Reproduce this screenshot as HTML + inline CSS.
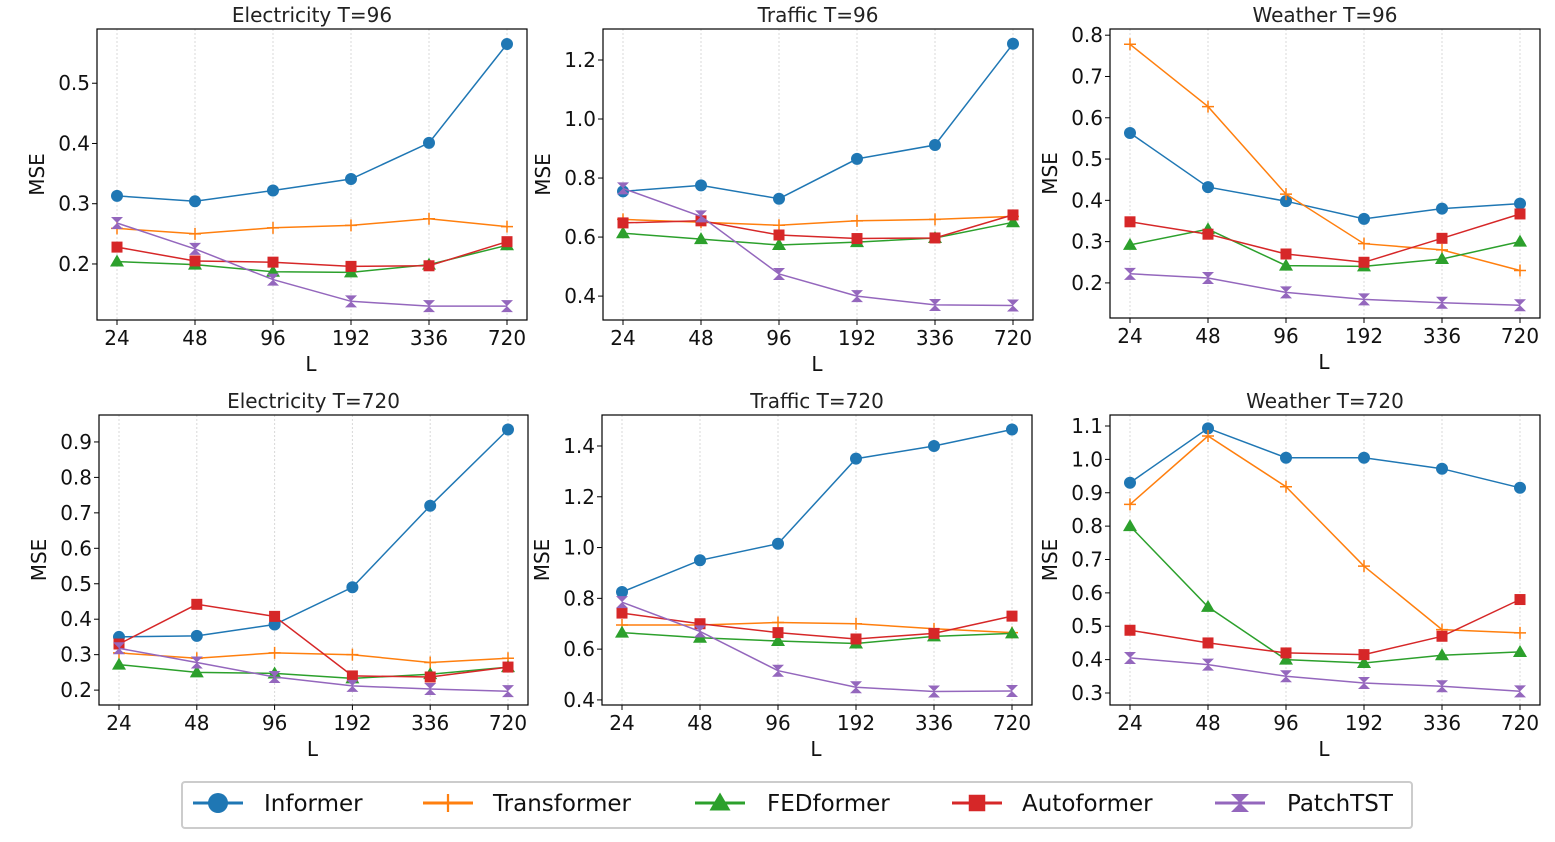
<!DOCTYPE html>
<html><head><meta charset="utf-8">
<style>
body{margin:0;background:#fff;}
svg{display:block;font-family:"DejaVu Sans","Liberation Sans",sans-serif;}
</style></head>
<body>
<svg id="fig" width="1555" height="842" viewBox="0 0 1555 842"></svg>
<script>
const categories = ["24","48","96","192","336","720"];
const seriesNames = ["Informer","Transformer","FEDformer","Autoformer","PatchTST"];
const colors = ["#1f77b4","#ff7f0e","#2ca02c","#d62728","#9467bd"];

const e96Informer = [0.313,0.304,0.322,0.341,0.401,0.565];
const e96Transformer = [0.259,0.250,0.260,0.264,0.275,0.262];
const e96FED = [0.204,0.199,0.187,0.186,0.199,0.231];
const e96Auto = [0.228,0.205,0.203,0.196,0.197,0.237];
const e96Patch = [0.268,0.225,0.174,0.138,0.130,0.130];
const e96Ticks = [0.2,0.3,0.4,0.5];

const t96Informer = [0.755,0.775,0.730,0.865,0.912,1.255];
const t96Transformer = [0.660,0.650,0.640,0.655,0.660,0.670];
const t96FED = [0.613,0.593,0.573,0.583,0.597,0.650];
const t96Auto = [0.648,0.655,0.607,0.595,0.597,0.675];
const t96Patch = [0.765,0.670,0.475,0.400,0.370,0.368];
const t96Ticks = [0.4,0.6,0.8,1.0,1.2];

const w96Informer = [0.563,0.432,0.398,0.355,0.380,0.392];
const w96Transformer = [0.778,0.627,0.415,0.295,0.280,0.230];
const w96FED = [0.292,0.330,0.242,0.240,0.258,0.300];
const w96Auto = [0.348,0.318,0.270,0.250,0.308,0.367];
const w96Patch = [0.222,0.212,0.177,0.160,0.152,0.146];
const w96Ticks = [0.2,0.3,0.4,0.5,0.6,0.7,0.8];

const e720Informer = [0.350,0.353,0.385,0.490,0.720,0.935];
const e720Transformer = [0.305,0.290,0.305,0.300,0.278,0.290];
const e720FED = [0.272,0.250,0.247,0.233,0.245,0.265];
const e720Auto = [0.330,0.442,0.408,0.240,0.237,0.265];
const e720Patch = [0.318,0.278,0.237,0.212,0.203,0.197];
const e720Ticks = [0.2,0.3,0.4,0.5,0.6,0.7,0.8,0.9];

const t720Informer = [0.825,0.950,1.015,1.350,1.400,1.465];
const t720Transformer = [0.695,0.695,0.705,0.700,0.680,0.665];
const t720FED = [0.665,0.645,0.632,0.622,0.650,0.662];
const t720Auto = [0.742,0.700,0.665,0.640,0.662,0.730];
const t720Patch = [0.785,0.670,0.515,0.450,0.433,0.435];
const t720Ticks = [0.4,0.6,0.8,1.0,1.2,1.4];

const w720Informer = [0.930,1.093,1.005,1.005,0.972,0.915];
const w720Transformer = [0.865,1.070,0.918,0.680,0.490,0.480];
const w720FED = [0.800,0.558,0.400,0.390,0.413,0.423];
const w720Auto = [0.488,0.450,0.420,0.415,0.470,0.580];
const w720Patch = [0.405,0.385,0.350,0.330,0.320,0.305];
const w720Ticks = [0.3,0.4,0.5,0.6,0.7,0.8,0.9,1.0,1.1];

const NS="http://www.w3.org/2000/svg";
const svg=document.getElementById('fig');
function mk(tag,attrs,parent){const e=document.createElementNS(NS,tag);for(const k in attrs)e.setAttribute(k,attrs[k]);(parent||svg).appendChild(e);return e;}

function marker(g,kind,x,y,c){
  let m;
  if(kind===0){m=mk('circle',{cx:x,cy:y,r:6,fill:c},g);}
  else if(kind===1){m=mk('path',{d:`M${x-6},${y}H${x+6}M${x},${y-6}V${y+6}`,stroke:c,'stroke-width':1.5,fill:'none'},g);}
  else if(kind===2){m=mk('path',{d:`M${x},${y-7}L${x+7},${y+5}L${x-7},${y+5}Z`,fill:c},g);}
  else if(kind===3){m=mk('rect',{x:x-5.5,y:y-5.5,width:11,height:11,fill:c},g);}
  else {m=mk('path',{d:`M${x-6},${y-6}H${x+6}L${x-6},${y+6}H${x+6}Z`,fill:c},g);}
  
  
  return m;
}

const panels=[
 {title:"Electricity T=96",x0:97,x1:527,y0:29,y1:320,lo:0.107,hi:0.59,ticks:e96Ticks,dec:1,data:[e96Informer,e96Transformer,e96FED,e96Auto,e96Patch],name:'electricity-t96'},
 {title:"Traffic T=96",x0:603,x1:1033,y0:29,y1:320,lo:0.319,hi:1.305,ticks:t96Ticks,dec:1,data:[t96Informer,t96Transformer,t96FED,t96Auto,t96Patch],name:'traffic-t96'},
 {title:"Weather T=96",x0:1110,x1:1540,y0:29,y1:318,lo:0.115,hi:0.815,ticks:w96Ticks,dec:1,data:[w96Informer,w96Transformer,w96FED,w96Auto,w96Patch],name:'weather-t96'},
 {title:"Electricity T=720",x0:99,x1:528,y0:415,y1:705,lo:0.158,hi:0.976,ticks:e720Ticks,dec:1,data:[e720Informer,e720Transformer,e720FED,e720Auto,e720Patch],name:'electricity-t720'},
 {title:"Traffic T=720",x0:602,x1:1032,y0:415,y1:705,lo:0.380,hi:1.522,ticks:t720Ticks,dec:1,data:[t720Informer,t720Transformer,t720FED,t720Auto,t720Patch],name:'traffic-t720'},
 {title:"Weather T=720",x0:1110,x1:1540,y0:415,y1:705,lo:0.264,hi:1.133,ticks:w720Ticks,dec:1,data:[w720Informer,w720Transformer,w720FED,w720Auto,w720Patch],name:'weather-t720'}
];

panels.forEach(p=>{
  const g=mk('g',{});
  
  
  const pad=20;
  const xs=i=>p.x0+pad+i*(p.x1-p.x0-2*pad)/(categories.length-1);
  const ys=v=>p.y1-(v-p.lo)/(p.hi-p.lo)*(p.y1-p.y0);
  // grid
  categories.forEach((c,i)=>{
    const l=mk('line',{x1:xs(i),x2:xs(i),y1:p.y0,y2:p.y1,stroke:'#d8d8d8','stroke-width':1,'stroke-dasharray':'2,2'},g);
    
    
    mk('line',{x1:xs(i),x2:xs(i),y1:p.y1,y2:p.y1+5,stroke:'#000'},g);
    const t=mk('text',{x:xs(i),y:p.y1+25,'text-anchor':'middle','font-size':20,fill:'#111'},g);
    t.textContent=c;
    
    
  });
  p.ticks.forEach(v=>{
    mk('line',{x1:p.x0-5,x2:p.x0,y1:ys(v),y2:ys(v),stroke:'#000'},g);
    const t=mk('text',{x:p.x0-7,y:ys(v)+7,'text-anchor':'end','font-size':20,fill:'#111'},g);
    t.textContent=v.toFixed(p.dec);
    
    
  });
  const fr=mk('rect',{x:p.x0,y:p.y0,width:p.x1-p.x0,height:p.y1-p.y0,fill:'none',stroke:'#000','stroke-width':1.2},g);
  
  
  const tt=mk('text',{x:(p.x0+p.x1)/2,y:p.y0-7,'text-anchor':'middle','font-size':20,fill:'#222'},g);
  tt.textContent=p.title;
  
  
  const xl=mk('text',{x:(p.x0+p.x1)/2-1,y:p.y1+51,'text-anchor':'middle','font-size':20,fill:'#111'},g);
  xl.textContent='L';
  
  
  const yc=(p.y0+p.y1)/2;
  const yl=mk('text',{x:p.x0-53,y:yc,'text-anchor':'middle','font-size':20,fill:'#111',transform:`rotate(-90 ${p.x0-53} ${yc})`},g);
  yl.textContent='MSE';
  
  
  p.data.forEach((arr,si)=>{
    const d=arr.map((v,i)=>(i?'L':'M')+xs(i).toFixed(1)+','+ys(v).toFixed(1)).join('');
    const pl=mk('path',{d:d,fill:'none',stroke:colors[si],'stroke-width':1.5},g);
    
    
    arr.forEach((v,i)=>marker(g,si,xs(i),ys(v),colors[si]));
  });
});

// legend
const lg=mk('g',{});


const lb=mk('rect',{x:182,y:782,width:1230,height:46,rx:3,fill:'#fff',stroke:'#ccc','stroke-width':2},lg);


const legX=[193,423,695,952,1215];
const textX=[264,493,767,1022,1287];
seriesNames.forEach((n,i)=>{
  const e=mk('g',{},lg);
  
  
  mk('line',{x1:legX[i],x2:legX[i]+50,y1:803,y2:803,stroke:colors[i],'stroke-width':3},e);
  const m=marker(e,i,legX[i]+25,803,colors[i]);
  if(i===0)m.setAttribute('r',10);
  else m.setAttribute('transform',`translate(${legX[i]+25},803) scale(1.5) translate(${-(legX[i]+25)},-803)`);
  const t=mk('text',{x:textX[i],y:811,'font-size':23,fill:'#111'},e);
  t.textContent=n;
});
</script>
</body></html>
